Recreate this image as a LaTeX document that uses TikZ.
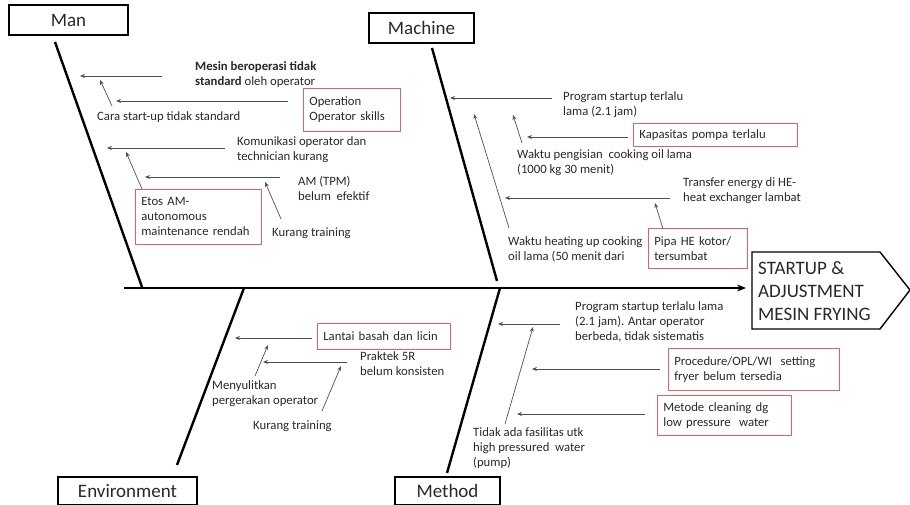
\documentclass[tikz,border=0pt]{standalone}
\usepackage{fontspec}
\setmainfont{Carlito}
\usepackage{tikz}
\usetikzlibrary{arrows.meta}

\definecolor{boxred}{RGB}{226,96,106}
\definecolor{txtgray}{RGB}{40,40,40}
\definecolor{arrgray}{RGB}{80,80,80}

\begin{document}
\begin{tikzpicture}[x=1pt,y=-1pt,
  lbl/.style={anchor=west, inner sep=0pt, align=left, text=txtgray, font=\fontsize{12.7}{15}\selectfont},
  redbox/.style={draw=boxred, line width=0.7pt, anchor=north west, inner xsep=6pt, inner ysep=0pt, align=left, text=txtgray, font=\fontsize{12.7}{15}\selectfont},
  catbox/.style={draw=black, line width=1.4pt, inner sep=0pt, text=txtgray, font=\fontsize{19}{23}\selectfont},
  bone/.style={line width=2.4pt},
  cause/.style={arrgray, line width=0.7pt, -{Stealth[length=5pt,width=4pt]}}]
\useasboundingbox (0,0) rectangle (910,505);

% spine and head
\draw[line width=1.4pt] (752,252) -- (880,252) -- (910,290) -- (880,329) -- (752,329) -- cycle;
\node[anchor=west, inner sep=0pt, align=left, text=txtgray, font=\fontsize{19}{23}\selectfont] (head) at (758,291) {STARTUP \&\\ADJUSTMENT\\MESIN FRYING};
\coordinate (spS) at (124,288);
\coordinate (spE) at (746,288);
\draw[line width=2.8pt, -{Stealth[length=9pt,width=7pt]}] (spS) -- (spE);

% Man
\node[catbox, minimum width=119pt, minimum height=30pt] (man) at (68.5,20) {Man};
\coordinate (manT) at (55,42);
\coordinate (manB) at (142,287);
\draw[bone] (manT) -- (manB);

\node[lbl] (mesin) at (195,74.5) {\textbf{Mesin beroperasi tidak}\\\textbf{standard} oleh operator};
\coordinate (mesinA) at (162,76);
\coordinate (mesinB) at (80,76);
\draw[cause] (mesinA) -- (mesinB);

\node[lbl] (cara) at (97,117) {Cara start-up tidak standard};
\coordinate (caraA) at (112,106);
\coordinate (caraB) at (100,80);
\draw[cause] (caraA) -- (caraB);

\node[redbox, text width=85pt, minimum height=43pt] (oper) at (303,88) {Operation\\Operator skills};
\coordinate (operA) at (288,101);
\coordinate (operB) at (116,101);
\draw[cause] (operA) -- (operB);

\node[lbl] (komu) at (237,150) {Komunikasi operator dan\\technician kurang};
\coordinate (komuA) at (225,148);
\coordinate (komuB) at (107,148);
\draw[cause] (komuA) -- (komuB);

\node[redbox, text width=114pt, minimum height=55pt] (etos) at (135,189) {Etos AM-\\autonomous\\maintenance rendah};
\coordinate (etosA) at (142,189);
\coordinate (etosB) at (126,152);
\draw[cause] (etosA) -- (etosB);

\node[lbl] (am) at (298,188.5) {AM (TPM)\\belum\ \ efektif};
\coordinate (amA) at (280,177);
\coordinate (amB) at (145,177);
\draw[cause] (amA) -- (amB);

\node[lbl] (kur1) at (272,233) {Kurang training};
\coordinate (kur1A) at (281,219);
\coordinate (kur1B) at (265,182);
\draw[cause] (kur1A) -- (kur1B);

% Machine
\node[catbox, minimum width=105pt, minimum height=30pt] (machine) at (421.5,28) {Machine};
\coordinate (macT) at (432,48);
\coordinate (macB) at (497,281);
\draw[bone] (macT) -- (macB);

\node[lbl] (prog1) at (563,104.5) {Program startup terlalu\\lama (2.1 jam)};
\coordinate (prog1A) at (552,98);
\coordinate (prog1B) at (450,98);
\draw[cause] (prog1A) -- (prog1B);

\node[redbox, text width=152pt, minimum height=23pt] (kapa) at (633,123) {Kapasitas pompa terlalu};
\coordinate (kapaA) at (628,137);
\coordinate (kapaB) at (527,137);
\draw[cause] (kapaA) -- (kapaB);

\node[lbl] (isi) at (517,162.5) {Waktu pengisian\ \ cooking oil lama\\(1000 kg 30 menit)};
\coordinate (isiA) at (522,143);
\coordinate (isiB) at (513,115);
\draw[cause] (isiA) -- (isiB);

\node[lbl] (trans) at (683,190.5) {Transfer energy di HE-\\heat exchanger lambat};
\coordinate (transA) at (670,198);
\coordinate (transB) at (505,198);
\draw[cause] (transA) -- (transB);

\node[redbox, text width=87pt, minimum height=40pt] (pipa) at (648,228) {Pipa HE kotor/\\tersumbat};
\coordinate (pipaA) at (663,229);
\coordinate (pipaB) at (655,203);
\draw[cause] (pipaA) -- (pipaB);

\node[lbl] (heat) at (508,249.5) {Waktu heating up cooking\\oil lama (50 menit dari};
\coordinate (heatA) at (509,228);
\coordinate (heatB) at (474,114);
\draw[cause] (heatA) -- (heatB);

% Environment
\node[catbox, minimum width=139pt, minimum height=28pt] (env) at (127.5,491) {Environment};
\coordinate (envT) at (244,288);
\coordinate (envB) at (177,465);
\draw[bone] (envT) -- (envB);

\node[redbox, text width=121pt, minimum height=26pt] (lantai) at (317,323) {Lantai basah dan licin};
\coordinate (lantaiA) at (312,338);
\coordinate (lantaiB) at (235,338);
\draw[cause] (lantaiA) -- (lantaiB);

\node[lbl] (praktek) at (360,363.5) {Praktek 5R\\belum konsisten};
\coordinate (praktekA) at (347,362);
\coordinate (praktekB) at (263,362);
\draw[cause] (praktekA) -- (praktekB);

\node[lbl] (sulit) at (212,393.5) {Menyulitkan\\pergerakan operator};
\coordinate (sulitA) at (255,376);
\coordinate (sulitB) at (268,345);
\draw[cause] (sulitA) -- (sulitB);

\node[lbl] (kur2) at (253,426) {Kurang training};
\coordinate (kur2A) at (322,411);
\coordinate (kur2B) at (341,366);
\draw[cause] (kur2A) -- (kur2B);

% Method
\node[catbox, minimum width=105pt, minimum height=28pt] (method) at (447.5,491) {Method};
\coordinate (metT) at (500,288);
\coordinate (metB) at (447,473);
\draw[bone] (metT) -- (metB);

\node[lbl] (prog2) at (575,321.5) {Program startup terlalu lama\\(2.1 jam). Antar operator\\berbeda, tidak sistematis};
\coordinate (prog2A) at (560,324);
\coordinate (prog2B) at (498,324);
\draw[cause] (prog2A) -- (prog2B);

\node[redbox, text width=159pt, minimum height=42pt] (proc) at (668,348) {Procedure/OPL/WI\ \ setting\\fryer belum tersedia};
\coordinate (procA) at (660,369);
\coordinate (procB) at (532,369);
\draw[cause] (procA) -- (procB);

\node[redbox, text width=122pt, minimum height=40pt] (metode) at (657,395) {Metode cleaning dg\\low pressure\ \ water};
\coordinate (metodeA) at (645,414);
\coordinate (metodeB) at (517,414);
\draw[cause] (metodeA) -- (metodeB);

\node[lbl] (fasil) at (473,448.5) {Tidak ada fasilitas utk\\high pressured\ \ water\\(pump)};
\coordinate (fasilA) at (505,424);
\coordinate (fasilB) at (533,327);
\draw[cause] (fasilA) -- (fasilB);
\end{tikzpicture}
\end{document}
